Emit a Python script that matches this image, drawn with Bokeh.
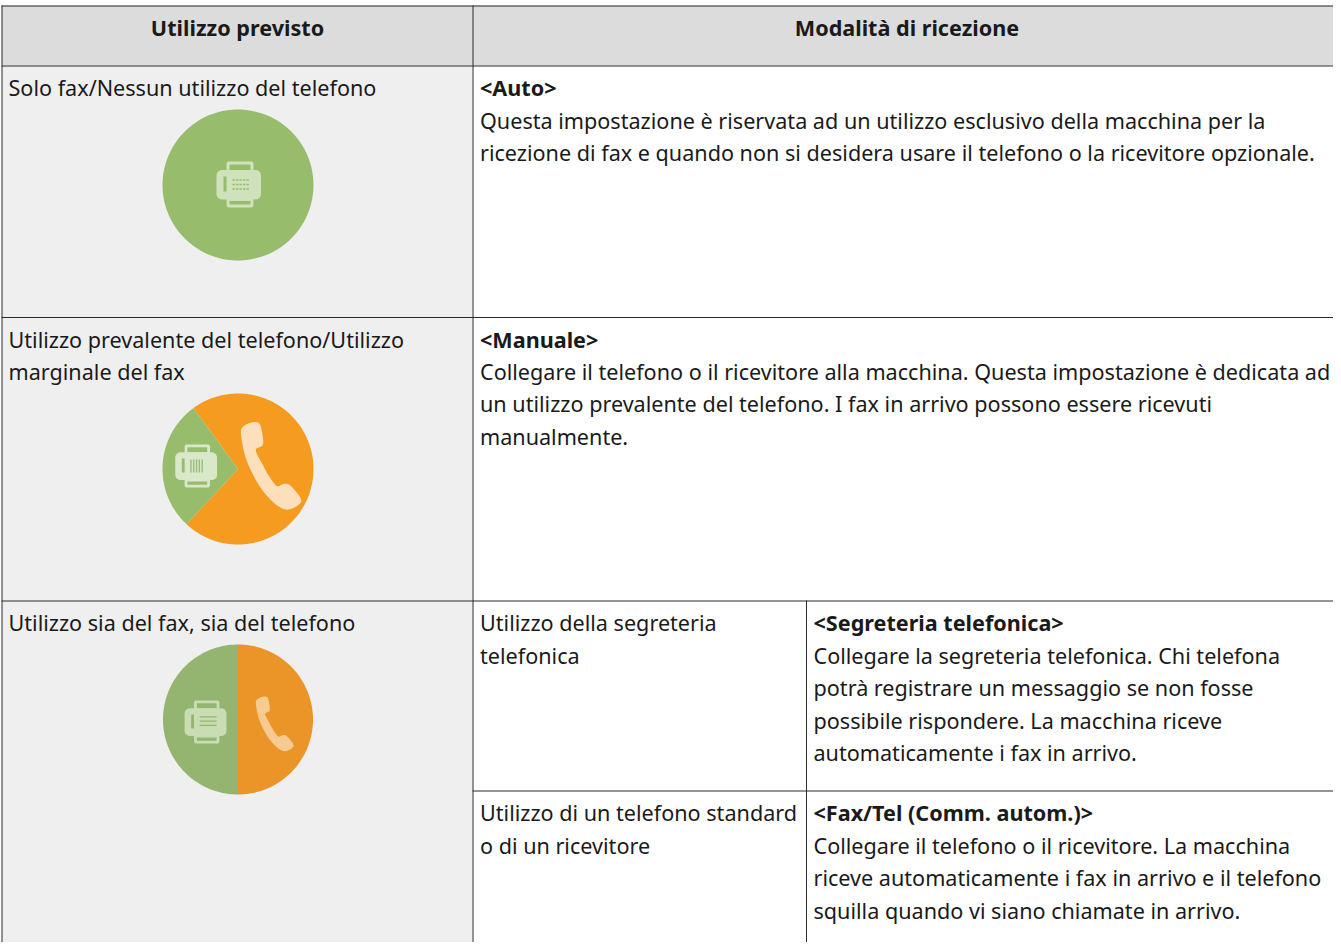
import numpy as np
from bokeh.embed import file_html
from bokeh.resources import INLINE
from bokeh.plotting import figure
from bokeh.core.properties import value

# ---- table content ----
headers = ["Utilizzo previsto", "Modalità di ricezione"]
left_col = ["Solo fax/Nessun utilizzo del telefono",
            "Utilizzo prevalente del telefono/Utilizzo", "marginale del fax",
            "Utilizzo sia del fax, sia del telefono"]
auto_title = "<Auto>"
auto_body = ["Questa impostazione è riservata ad un utilizzo esclusivo della macchina per la",
             "ricezione di fax e quando non si desidera usare il telefono o la ricevitore opzionale."]
manual_title = "<Manuale>"
manual_body = ["Collegare il telefono o il ricevitore alla macchina. Questa impostazione è dedicata ad",
               "un utilizzo prevalente del telefono. I fax in arrivo possono essere ricevuti",
               "manualmente."]
mid_col = ["Utilizzo della segreteria", "telefonica", "Utilizzo di un telefono standard", "o di un ricevitore"]
seg_title = "<Segreteria telefonica>"
seg_body = ["Collegare la segreteria telefonica. Chi telefona",
            "potrà registrare un messaggio se non fosse",
            "possibile rispondere. La macchina riceve",
            "automaticamente i fax in arrivo."]
faxtel_title = "<Fax/Tel (Comm. autom.)>"
faxtel_body = ["Collegare il telefono o il ricevitore. La macchina",
               "riceve automaticamente i fax in arrivo e il telefono",
               "squilla quando vi siano chiamate in arrivo."]
# share of each disc that is the fax (percent)
fax_share = [100, 28, 50]

FONT = "Noto Sans"
INK = "#1a1a1a"
LINE = "#2b2b2b"
W, H = 1333, 942
p = figure(width=W, height=H, x_range=(8, 8 + W), y_range=(8 + H, 8), output_backend="svg",
           toolbar_location=None, min_border=0, outline_line_color=None, background_fill_color="white")
p.axis.visible = False
p.grid.visible = False

# ---- cell fills ----
p.quad(left=[9], right=[1341], top=[13], bottom=[73], fill_color="#dcdcdc", line_color=None)
p.quad(left=[9], right=[480], top=[73], bottom=[950], fill_color="#efefef", line_color=None)

# ---- rules ----
hy = [13.5, 73.5, 325, 608.5]
p.segment(x0=[9] * 4, x1=[1341] * 4, y0=hy, y1=hy, line_color=LINE, line_width=1)
p.segment(x0=[480], x1=[1341], y0=[798.5], y1=[798.5], line_color=LINE, line_width=1)
p.segment(x0=[9.5, 480.5, 814], x1=[9.5, 480.5, 814], y0=[13, 13, 608], y1=[950, 950, 950],
          line_color=LINE, line_width=1)


def put(xs, ys, texts, bold=False, align="left"):
    p.text(x=xs, y=[v - 0.8 for v in ys], text=texts, text_font=value(FONT), text_font_size="21.6px",
           text_font_style="bold" if bold else "normal", text_color=INK,
           text_align=align, text_baseline="middle")


put([245, 914.5], [36, 36], headers, bold=True, align="center")
put([16] * 4, [96, 348, 380, 631], left_col)
put([487.5], [96], [auto_title], bold=True)
put([487.5] * 2, [129, 161], auto_body)
put([487.5], [348], [manual_title], bold=True)
put([487.5] * 3, [380, 412, 445], manual_body)
put([487.5] * 4, [631, 664, 821, 854], mid_col)
put([821], [631], [seg_title], bold=True)
put([821] * 4, [664, 696, 729, 761], seg_body)
put([821], [821], [faxtel_title], bold=True)
put([821] * 3, [854, 886, 919], faxtel_body)


# ---- icons ----
def rrect(x0, y0, x1, y1, r, n=6):
    t = np.linspace(0, np.pi / 2, n)
    xs, ys = [], []
    for cx, cy, a in [(x1 - r, y0 + r, -np.pi / 2), (x1 - r, y1 - r, 0), (x0 + r, y1 - r, np.pi / 2), (x0 + r, y0 + r, np.pi)]:
        xs += list(cx + r * np.cos(a + t))
        ys += list(cy + r * np.sin(a + t))
    return xs, ys


def fax(cx, cy, s, fg, bg, style):
    def box(x0, y0, x1, y1, r, c):
        xs, ys = rrect(cx + s * x0, cy + s * y0, cx + s * x1, cy + s * y1, s * r)
        p.patch(xs, ys, fill_color=c, line_color=None)
    box(-12, -23, 15, -12, 2.5, fg)
    box(-12, 12, 15, 23, 2.5, fg)
    box(-9, -20, 12, -14.5, 0.5, bg)
    box(-9, 16.5, 12, 20, 0.5, bg)
    box(-22, -14.5, 22.5, 15, 5.5, fg)
    box(-15, -8, -12, 7, 0.3, bg)
    if style == "keys":
        for dy in (-4.5, 0, 4.5):
            for dx in (-6, -2.5, 1, 4.5, 8):
                box(dx, dy - 0.8, dx + 2.4, dy + 0.8, 0, bg)
    elif style == "bars":
        for dx in (-6, -3, 0, 3, 6):
            box(dx, -7, dx + 1.4, 7, 0, bg)
    else:
        for dy in (-6, -1.5, 3):
            box(-6, dy, 12, dy + 1.3, 0, bg)


PHONE_X = [-26.7, -25, -16.7, -10, -7.7, -5, -8.3, -14, -11.7, -6.7, -1.7, 5, 9.3, 16.7, 21.7, 32.7, 31.7, 23.3, 16.7, 6.7, -6.7, -16.7, -22.7]
PHONE_Y = [-31, -36, -40, -40.3, -36, -19.3, -17, -15, -7.7, 0.7, 10.7, 20.7, 25, 21, 22.3, 35.7, 40, 45, 45.7, 39.7, 24.7, 6.3, -8.7]


def chaikin(x, y, rounds=2):
    x, y = np.array(x), np.array(y)
    for _ in range(rounds):
        nx, ny = np.roll(x, -1), np.roll(y, -1)
        x = np.ravel(np.column_stack([0.75 * x + 0.25 * nx, 0.25 * x + 0.75 * nx]))
        y = np.ravel(np.column_stack([0.75 * y + 0.25 * ny, 0.25 * y + 0.75 * ny]))
    return x, y


def phone(cx, cy, s, fg):
    x, y = chaikin(PHONE_X, PHONE_Y)
    p.patch(cx + s * x, cy + s * y, fill_color=fg, line_color=fg, line_width=2 * s, line_join="round")


def disc(cx, cy, r, share, start_deg, green, orange):
    a = np.radians(np.linspace(start_deg, start_deg + 360 * share / 100, 100))
    b = np.radians(np.linspace(start_deg + 360 * share / 100, start_deg + 360, 200))
    if share < 100:
        p.patch(np.r_[cx, cx + r * np.cos(b)], np.r_[cy, cy + r * np.sin(b)], fill_color=orange, line_color=None)
        p.patch(np.r_[cx, cx + r * np.cos(a)], np.r_[cy, cy + r * np.sin(a)], fill_color=green, line_color=None)
    else:
        p.patch(cx + r * np.cos(a), cy + r * np.sin(a), fill_color=green, line_color=None)


disc(245.5, 192.5, 75.5, fax_share[0], 0, "#97bc6c", "#f59c20")
fax(246, 192, 1.0, "#cfe2bb", "#97bc6c", "keys")

disc(245.5, 476.5, 75.5, fax_share[1], 133, "#97bc6c", "#f59c20")
fax(203.4, 473.5, 0.94, "#d8e8c8", "#97bc6c", "bars")
phone(275.5, 470.7, 1.0, "#fde0bb")

disc(245.5, 727, 75, fax_share[2], 90, "#94b56f", "#eb9528")
fax(212.8, 729.5, 0.94, "#c9dcb4", "#94b56f", "lines")
phone(280.3, 729.7, 0.625, "#f6cb91")

open("out.html", "w").write(file_html(p, INLINE))
